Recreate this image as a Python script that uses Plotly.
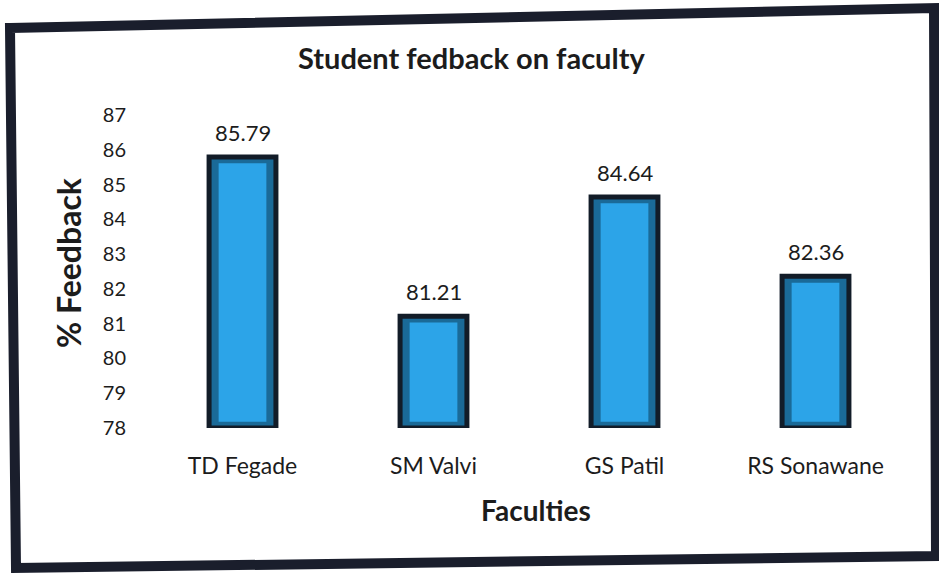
import plotly.graph_objects as go

categories = ["TD Fegade", "SM Valvi", "GS Patil", "RS Sonawane"]
values = [85.79, 81.21, 84.64, 82.36]
value_labels = ["85.79", "81.21", "84.64", "82.36"]
y_ticks = [78, 79, 80, 81, 82, 83, 84, 85, 86, 87]
base_value = 78

W, H = 939, 575
L, R, T, B = 147, 28, 115, 147
PW, PH = W - L - R, H - T - B

def px(x):
    return (x - L) / PW

def py(y):
    return (H - B - y) / PH

FONT = "Lato, 'Open Sans', sans-serif"
TXT = "#1c1c1c"

fig = go.Figure()
# outer bar (dark bevel + navy outline)
fig.add_trace(go.Bar(
    x=categories, y=[v - base_value for v in values], base=base_value,
    width=0.35, marker=dict(color="#1a6a98", line=dict(color="#121c28", width=5)),
    hoverinfo="skip", showlegend=False,
))
# inner lighter face
fig.add_trace(go.Bar(
    x=categories, y=[v - base_value - 0.36 for v in values], base=base_value + 0.18,
    width=0.25, marker=dict(color="#2ca4e8", line=dict(width=0)),
    hoverinfo="skip", showlegend=False,
))

annotations = [
    dict(text="<b>Student fedback on faculty</b>", xref="paper", yref="paper",
         x=px(471), y=py(58), showarrow=False, xanchor="center", yanchor="middle",
         font=dict(family=FONT, size=29, color=TXT)),
    dict(text="<b>% Feedback</b>", xref="paper", yref="paper",
         x=px(68), y=py(263), showarrow=False, textangle=-90,
         xanchor="center", yanchor="middle",
         font=dict(family=FONT, size=32, color=TXT)),
    dict(text="<b>Faculties</b>", xref="paper", yref="paper",
         x=px(536), y=py(510), showarrow=False, xanchor="center", yanchor="middle",
         font=dict(family=FONT, size=28, color=TXT)),
]
for c, v, t in zip(categories, values, value_labels):
    annotations.append(dict(text=t, x=c, y=v, xref="x", yref="y", showarrow=False,
                            yshift=25, font=dict(family=FONT, size=22, color=TXT)))

fig.update_layout(
    width=W, height=H, barmode="overlay",
    margin=dict(l=L, r=R, t=T, b=B),
    paper_bgcolor="white", plot_bgcolor="white",
    font=dict(family=FONT, color=TXT),
    xaxis=dict(showgrid=False, showline=False, zeroline=False,
               tickfont=dict(family=FONT, size=23, color=TXT),
               ticklabelstandoff=22),
    yaxis=dict(range=[78, 87], tickvals=y_ticks, showgrid=False, showline=False,
               zeroline=False, tickfont=dict(family=FONT, size=20, color=TXT),
               ticklabelstandoff=20),
    shapes=[dict(
        type="path", xref="paper", yref="paper",
        path=(f"M {px(10)} {py(28)} L {px(934)} {py(8)} "
              f"L {px(936)} {py(556)} L {px(16)} {py(568)} Z"),
        line=dict(color="#1a1e2c", width=10), fillcolor="rgba(0,0,0,0)", layer="above",
    )],
    annotations=annotations,
)

fig.write_html("out.html", config={"displayModeBar": False},
               post_script="document.body.style.margin='0';")
